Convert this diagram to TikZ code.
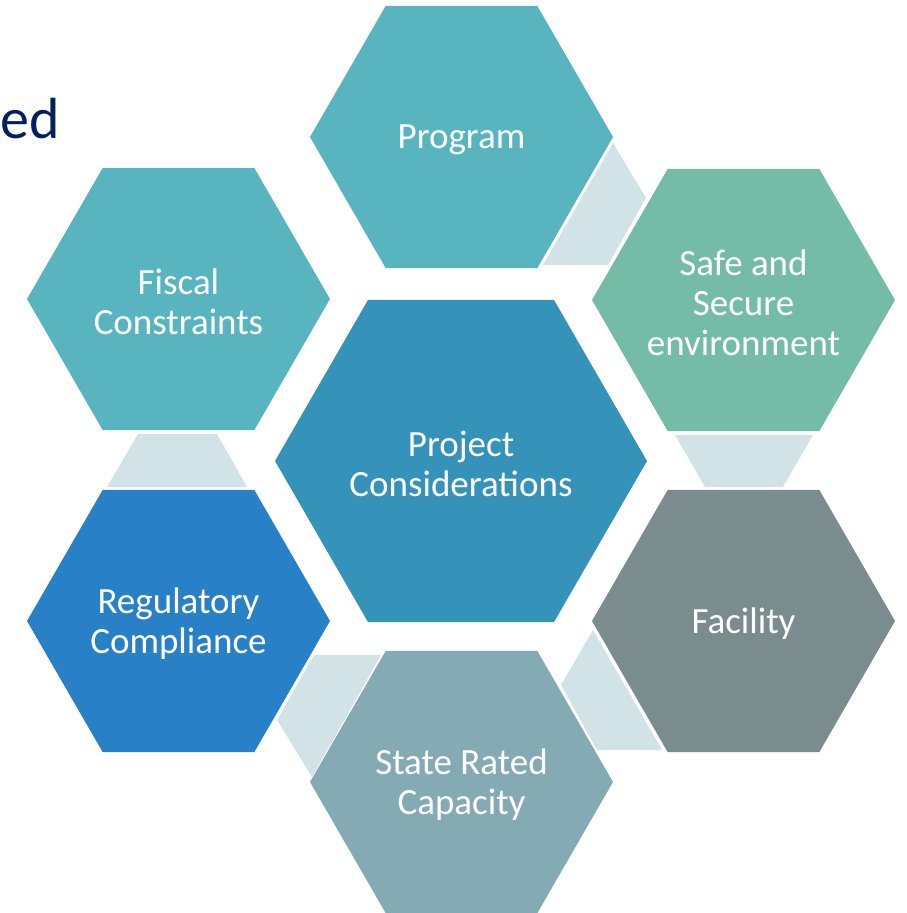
\documentclass[tikz,border=0pt]{standalone}
\usepackage{fontspec}
\setmainfont{Carlito}
\usetikzlibrary{shapes.geometric,positioning}
\definecolor{hexteal}{RGB}{88,181,191}
\definecolor{hexgreen}{RGB}{116,188,165}
\definecolor{hexcentre}{RGB}{53,147,185}
\definecolor{hexblue}{RGB}{40,128,198}
\definecolor{hexgrey}{RGB}{122,140,142}
\definecolor{hexslate}{RGB}{132,170,180}
\definecolor{linkfill}{RGB}{210,227,231}
\definecolor{titlenavy}{RGB}{0,32,96}

\begin{document}
\begin{tikzpicture}[x=1pt,y={(0pt,-1pt)},
  hex/.style={regular polygon,regular polygon sides=6,
    minimum size=303pt,inner sep=0pt,outer sep=0pt,
    label={[hextext]center:#1}},
  hextext/.style={text=white,align=center,inner sep=0pt,yshift=-3pt,
    font=\fontsize{37}{40}\selectfont},
  link/.style={fill=linkfill}]
\useasboundingbox (0,0) rectangle (907,913);
\node [anchor=base west,inner sep=0pt,text=titlenavy,font=\fontsize{58}{58}\selectfont] at (0,138) (title) {ed};

% connectors between the outer hexagons
\fill [link] (613,143) -- (646,198) -- (608,265) -- (543,265) -- cycle;
\fill [link] (675,435) -- (813,435) -- (783,487) -- (705,487) -- cycle;
\fill [link] (593,630) -- (662,750) -- (597,750) -- (561,685) -- cycle;
\fill [link] (314,655) -- (381,655) -- (312,777) -- (277,720) -- cycle;
\fill [link] (138,434) -- (217,434) -- (247,487) -- (107,487) -- cycle;

\node [hex={Project\\Considerations},minimum size=372pt,fill=hexcentre] at (461,461) (h0) {};
\node [hex={Program},fill=hexteal] at (461.5,137) (h1) {};
\node [hex={Safe and\\Secure\\environment},fill=hexgreen] at (743.5,300) (h2) {};
\node [hex={Facility},fill=hexgrey] at (743.5,621) (h3) {};
\node [hex={State Rated\\Capacity},fill=hexslate] at (461.5,782) (h4) {};
\node [hex={Regulatory\\Compliance},fill=hexblue] at (178.5,621) (h5) {};
\node [hex={Fiscal\\Constraints},fill=hexteal] at (178.5,299) (h6) {};
\end{tikzpicture}
\end{document}
